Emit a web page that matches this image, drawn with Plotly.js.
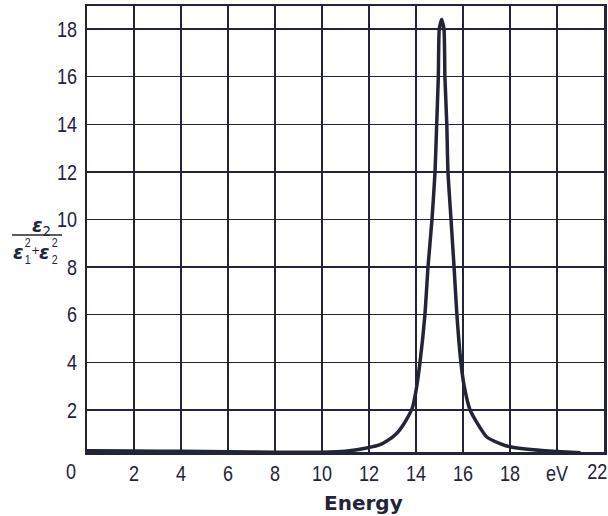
<!DOCTYPE html>
<html>
<head>
<meta charset="utf-8">
<script src="https://cdn.plot.ly/plotly-3.0.1.min.js"></script>
<style>
html,body{margin:0;padding:0;background:#fff;}
#chart{width:608px;height:516px;}
</style>
</head>
<body>
<div id="chart"></div>
<script>
// Data
const energy = [0, 2, 4, 6, 8, 10, 11, 11.9, 12.5, 13.0, 13.3, 13.6, 13.85, 14.0, 14.17, 14.38, 14.51, 14.68, 14.81, 14.88, 14.95, 14.99, 15.09, 15.19, 15.23, 15.31, 15.36, 15.49, 15.62, 15.74, 15.91, 16.05, 16.3, 16.6, 17.0, 17.6, 18.0, 19.0, 20.0, 21.0];
const lossFn = [0.28, 0.27, 0.26, 0.24, 0.22, 0.22, 0.26, 0.4, 0.55, 0.85, 1.15, 1.6, 2.1, 2.8, 4, 6, 8, 10, 12, 14, 16, 18, 18.4, 18, 16, 14, 12, 10, 8, 6, 4, 3, 2, 1.45, 0.87, 0.57, 0.45, 0.32, 0.25, 0.2];
const xTickVals = [2, 4, 6, 8, 10, 12, 14, 16, 18, 20];
const xTickText = ['2', '4', '6', '8', '10', '12', '14', '16', '18', 'eV'];
const yTickVals = [2, 4, 6, 8, 10, 12, 14, 16, 18];
const yTickText = ['2', '4', '6', '8', '10', '12', '14', '16', '18'];
const cornerLabels = ['0', '22'];

const INK = '#23233a';
const NUM_FONT = "'Liberation Sans', 'DejaVu Sans', sans-serif";
const W = 608, H = 516, L = 87, R = 4, T = 6, B = 64;
const px = x => (x - L) / (W - L - R);
const py = y => (H - B - y) / (H - T - B);

function txt(x, y, text, size, family) {
  return {
    xref: 'paper', yref: 'paper', x: px(x), y: py(y), text: text, showarrow: false,
    xanchor: 'center', yanchor: 'middle',
    font: {family: family || "'DejaVu Sans', sans-serif", size: size, color: INK}
  };
}

const trace = {
  x: energy, y: lossFn, type: 'scatter', mode: 'lines',
  line: {color: INK, width: 3.5, shape: 'spline', smoothing: 0.5},
  hoverinfo: 'skip'
};

const layout = {
  width: W, height: H,
  margin: {l: L, r: R, t: T, b: B},
  paper_bgcolor: '#fff', plot_bgcolor: '#fff',
  showlegend: false,
  xaxis: {
    range: [0, 22], tickvals: xTickVals, ticktext: xTickText,
    showgrid: true, gridcolor: INK, gridwidth: 1.5,
    showline: true, mirror: true, linecolor: INK, linewidth: 2.5,
    zeroline: false, ticks: '', ticklabelstandoff: 0,
    tickfont: {family: NUM_FONT, size: 22, color: INK}
  },
  yaxis: {
    range: [0.23, 18.97], tickvals: yTickVals, ticktext: yTickText,
    showgrid: true, gridcolor: INK, gridwidth: 1.5,
    showline: true, mirror: true, linecolor: INK, linewidth: 2.5,
    zeroline: false, ticks: '', ticklabelstandoff: 3,
    tickfont: {family: NUM_FONT, size: 22, color: INK}
  },
  shapes: [
    {type: 'line', xref: 'paper', yref: 'paper', x0: px(12), x1: px(62), y0: py(235), y1: py(235),
     line: {color: INK, width: 1.5}}
  ],
  annotations: [
    txt(71, 472, cornerLabels[0], 22, NUM_FONT),
    txt(597, 472, cornerLabels[1], 22, NUM_FONT),
    txt(363, 503, '<b>Energy</b>', 20, "'DejaVu Sans', sans-serif"),
    // numerator
    txt(41, 226, '<b><i>ε</i></b><sub>2</sub>', 19),
    // denominator
    txt(18, 252, '<b><i>ε</i></b>', 19),
    txt(27, 242, '2', 13, NUM_FONT),
    txt(27, 259, '1', 13, NUM_FONT),
    txt(35, 251, '+', 11),
    txt(44, 252, '<b><i>ε</i></b>', 19),
    txt(54, 242, '2', 13, NUM_FONT),
    txt(54, 259, '2', 13, NUM_FONT)
  ]
};

function narrow(el, s) {
  const x = +el.getAttribute('x') || 0, y = +el.getAttribute('y') || 0;
  const t = el.getAttribute('transform') || '';
  el.setAttribute('transform', t + ' translate(' + x + ',' + y + ') scale(' + s + ',1) translate(' + (-x) + ',' + (-y) + ')');
}

Plotly.newPlot('chart', [trace], layout, {displayModeBar: false, staticPlot: true}).then(() => {
  document.querySelectorAll('#chart .xtick text, #chart .ytick text').forEach(t => narrow(t, 0.82));
  document.querySelectorAll('#chart .annotation-text').forEach(t => {
    if (/^[0-9]+$/.test(t.textContent)) narrow(t, 0.82);
  });
});
</script>
</body>
</html>
